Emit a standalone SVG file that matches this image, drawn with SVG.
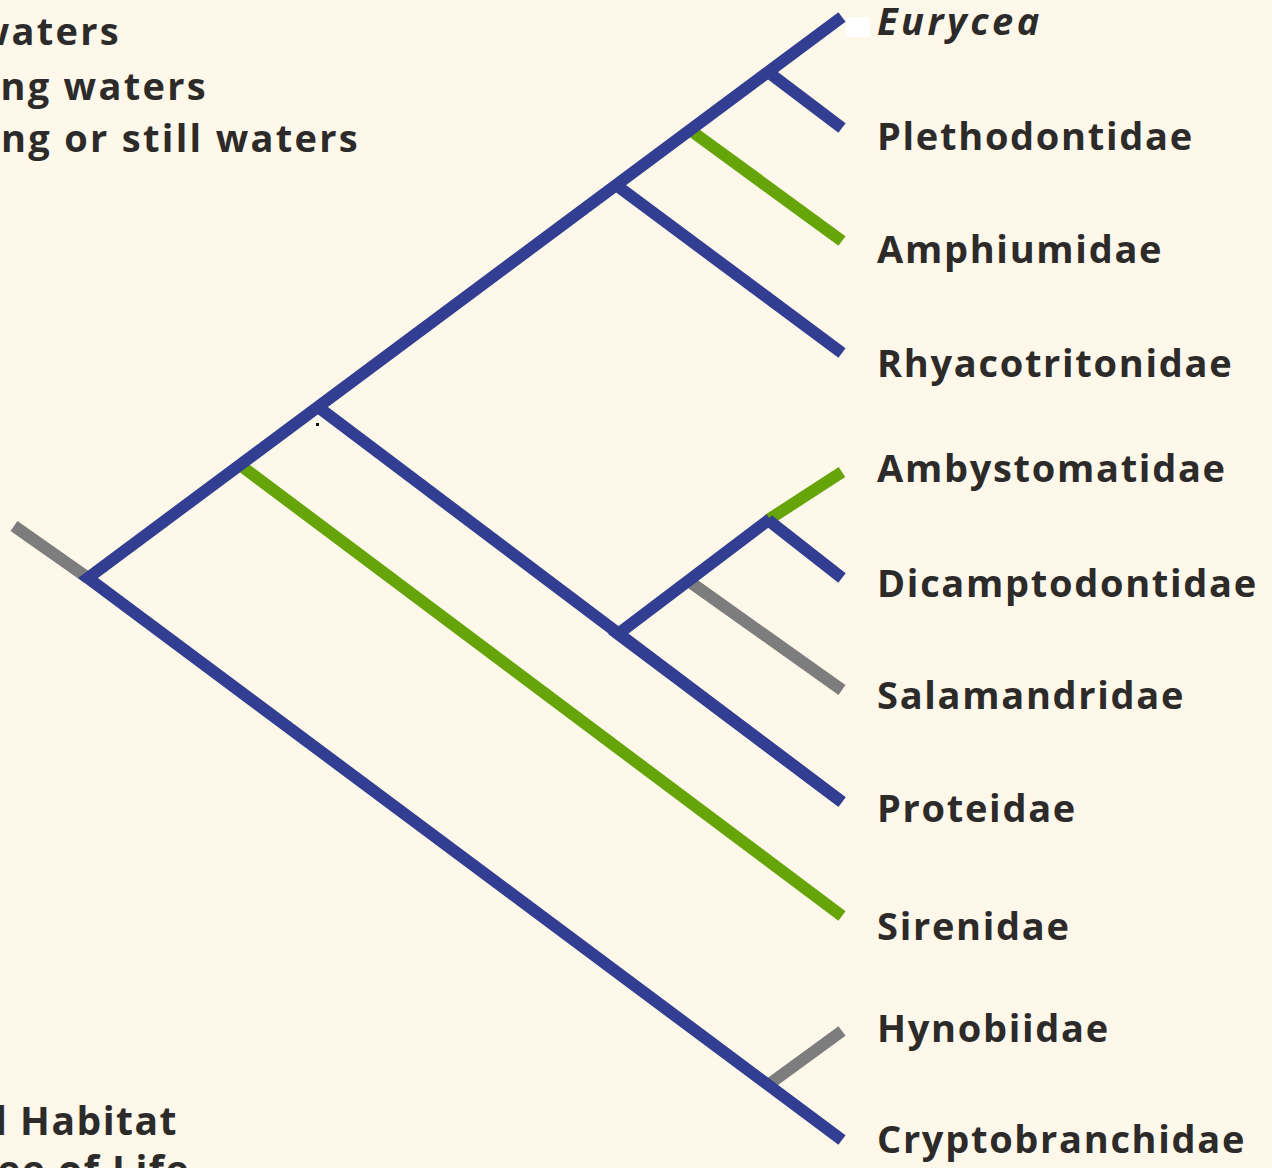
<svg xmlns="http://www.w3.org/2000/svg" width="1272" height="1168" viewBox="0 0 1272 1168">
<style>
.lbl{font-family:"Open Sans","Liberation Sans",sans-serif;font-weight:700;font-size:38px;fill:#2d2b29;letter-spacing:1.7px}
.leg{font-family:"Open Sans","Liberation Sans",sans-serif;font-weight:700;font-size:38px;fill:#2d2b29;letter-spacing:2.3px}
.ttl{font-family:"Open Sans","Liberation Sans",sans-serif;font-weight:700;font-size:39px;fill:#2d2b29;letter-spacing:1.5px}
.b{stroke:#313e91;stroke-width:12;fill:none;stroke-linejoin:miter;stroke-miterlimit:10}
.g{stroke:#66a50a;stroke-width:12;fill:none}
.y{stroke:#7d7d7d;stroke-width:12;fill:none}
</style>
<rect x="0" y="0" width="1272" height="1168" fill="#fef8eb"/>
<g id="legend">
<text class="leg" x="121" y="45" text-anchor="end">waters</text>
<text class="leg" x="208" y="100" text-anchor="end">ng waters</text>
<text class="leg" x="360" y="152" text-anchor="end">ng or still waters</text>
</g>
<g id="title">
<text class="ttl" x="178" y="1135" text-anchor="end">d Habitat</text>
<text class="ttl" x="190" y="1184" text-anchor="end">ee of Life</text>
</g>
<g id="connectors">
<line class="y" x1="14" y1="526" x2="88" y2="578"/>
<line class="y" x1="768" y1="1085" x2="842" y2="1031"/>
<line class="g" x1="240" y1="465" x2="842" y2="916"/>
<line class="g" x1="690" y1="130" x2="842" y2="241"/>
<line class="g" x1="768" y1="520" x2="842" y2="472"/>
<line class="y" x1="690" y1="582" x2="842" y2="690"/>
<line class="b" x1="768" y1="72" x2="842" y2="128"/>
<line class="b" x1="616" y1="185" x2="842" y2="353"/>
<line class="b" x1="318" y1="407" x2="842" y2="802"/>
<line class="b" x1="768" y1="520" x2="842" y2="578"/>
<path class="b" d="M842,802 L618,634 L770,519"/>
<path class="b" d="M842,17 L88,578 L842,1140"/>
</g>
<rect x="846" y="17" width="24" height="20" fill="#ffffff"/>
<rect x="316" y="423" width="3" height="3" fill="#111111"/>
<g id="n-eurycea"><text class="lbl" x="877" y="35" font-style="italic" style="letter-spacing:3.5px">Eurycea</text></g>
<g id="n-plethodontidae"><text class="lbl" x="877" y="150">Plethodontidae</text></g>
<g id="n-amphiumidae"><text class="lbl" x="877" y="263">Amphiumidae</text></g>
<g id="n-rhyacotritonidae"><text class="lbl" x="877" y="377">Rhyacotritonidae</text></g>
<g id="n-ambystomatidae"><text class="lbl" x="877" y="482">Ambystomatidae</text></g>
<g id="n-dicamptodontidae"><text class="lbl" x="877" y="597">Dicamptodontidae</text></g>
<g id="n-salamandridae"><text class="lbl" x="877" y="709">Salamandridae</text></g>
<g id="n-proteidae"><text class="lbl" x="877" y="822">Proteidae</text></g>
<g id="n-sirenidae"><text class="lbl" x="877" y="940">Sirenidae</text></g>
<g id="n-hynobiidae"><text class="lbl" x="877" y="1042">Hynobiidae</text></g>
<g id="n-cryptobranchidae"><text class="lbl" x="877" y="1153">Cryptobranchidae</text></g>
</svg>
